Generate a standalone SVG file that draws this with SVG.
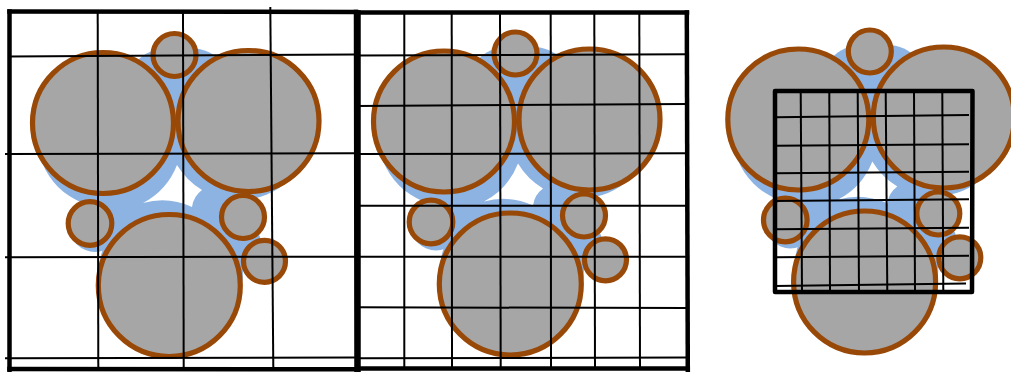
<svg xmlns="http://www.w3.org/2000/svg" xmlns:xlink="http://www.w3.org/1999/xlink" width="1011" height="372" viewBox="0 0 1011 372">
<style>
.blue{fill:#8db3e2;stroke:none}
.hole{fill:#ffffff;stroke:none}
.ball{fill:#a6a6a6;stroke:#984807;stroke-width:5.2}
.thin{fill:none;stroke:#000;stroke-width:2;stroke-linecap:butt}
.thick{fill:none;stroke:#000;stroke-width:4.5;stroke-linecap:square;stroke-linejoin:round}
</style>
<defs>
<g id="cluster">
<g class="shadow">
<polygon class="blue" points="109,136 176,90 239,127 217,210 243,243 171,272 96,228"/>
<circle class="blue" cx="109" cy="136" r="72"/>
<circle class="blue" cx="239" cy="127" r="73"/>
<circle class="blue" cx="171" cy="272" r="72"/>
<circle class="blue" cx="95" cy="227" r="25"/>
<circle class="blue" cx="217" cy="210" r="25"/>
<circle class="blue" cx="243" cy="243" r="18"/>
<path class="blue" d="M134,66 C140,55 150,50 165,48 L190,48 C205,49 214,53 222,62 L176,118 Z"/>
<path class="hole" d="M177,165 A73,73 0 0 0 202,190 A25,25 0 0 0 192,207 A72,72 0 0 0 143,203 A73,73 0 0 0 177,165 Z"/>
</g>
<circle class="ball" cx="103" cy="123" r="70.5"/>
<circle class="ball" cx="248.5" cy="121" r="70.5"/>
<circle class="ball" cx="169.3" cy="285.5" r="71"/>
<circle class="ball" cx="174.5" cy="55" r="21.5"/>
<circle class="ball" cx="90" cy="223.5" r="21.8"/>
<circle class="ball" cx="243" cy="217" r="21.5"/>
<circle class="ball" cx="264.5" cy="261.3" r="21"/>
</g>
</defs>

<g id="panel1">
<use xlink:href="#cluster" href="#cluster"/>
<g id="grid1">
<line class="thin" x1="97.7" y1="12" x2="98.3" y2="370"/>
<line class="thin" x1="183" y1="12" x2="183.7" y2="370"/>
<line class="thin" x1="270.3" y1="7" x2="273.3" y2="367"/>
<line class="thin" x1="9" y1="56.5" x2="355" y2="54.5"/>
<line class="thin" x1="5" y1="154" x2="355" y2="153.3"/>
<line class="thin" x1="5" y1="257.3" x2="355" y2="256.7"/>
<line class="thin" x1="5" y1="358.3" x2="355" y2="357.5"/>
<line class="thick" x1="9.5" y1="11.5" x2="356" y2="12"/>
<line class="thick" x1="9.5" y1="11.5" x2="9.5" y2="372"/>
<line class="thick" x1="9.5" y1="369" x2="356" y2="369.3"/>
<line class="thick" x1="356" y1="12" x2="356.5" y2="372"/>
</g>
</g>

<g id="panel2">
<use xlink:href="#cluster" href="#cluster" transform="translate(341,-1.5)"/>
<g id="grid2">
<line class="thin" x1="404.3" y1="12" x2="404.3" y2="370"/>
<line class="thin" x1="451.7" y1="12" x2="452" y2="370"/>
<line class="thin" x1="500" y1="12" x2="500.7" y2="370"/>
<line class="thin" x1="550.7" y1="12" x2="551" y2="370"/>
<line class="thin" x1="594.3" y1="12" x2="595" y2="370"/>
<line class="thin" x1="639.3" y1="12" x2="640" y2="370"/>
<line class="thin" x1="356" y1="55.5" x2="687" y2="54.3"/>
<line class="thin" x1="356" y1="106" x2="687" y2="104"/>
<line class="thin" x1="356" y1="154" x2="687" y2="153.3"/>
<line class="thin" x1="356" y1="205.7" x2="687" y2="205.7"/>
<line class="thin" x1="356" y1="256.7" x2="687" y2="256.7"/>
<line class="thin" x1="356" y1="307.3" x2="687" y2="308"/>
<line class="thin" x1="356" y1="358.3" x2="687" y2="357.5"/>
<line class="thick" x1="358.5" y1="12.5" x2="687" y2="12.5"/>
<line class="thick" x1="358.5" y1="12.5" x2="358.5" y2="372"/>
<line class="thick" x1="358.5" y1="368.5" x2="687.5" y2="368.5"/>
<line class="thick" x1="686.8" y1="12.5" x2="687.8" y2="372"/>
</g>
</g>

<g id="panel3">
<use xlink:href="#cluster" href="#cluster" transform="translate(695.3,-3.5)"/>
<g id="grid3">
<line class="thin" x1="800.7" y1="91" x2="802" y2="292"/>
<line class="thin" x1="829.3" y1="91" x2="830" y2="292"/>
<line class="thin" x1="857.7" y1="91" x2="859" y2="292"/>
<line class="thin" x1="885.7" y1="91" x2="887.3" y2="292"/>
<line class="thin" x1="914" y1="91" x2="915" y2="292"/>
<line class="thin" x1="942.3" y1="91" x2="943.3" y2="292"/>
<line class="thin" x1="775" y1="117.3" x2="969" y2="115"/>
<line class="thin" x1="775" y1="145.7" x2="969" y2="144.3"/>
<line class="thin" x1="775" y1="173.3" x2="969" y2="171.7"/>
<line class="thin" x1="775" y1="201" x2="969" y2="199.3"/>
<line class="thin" x1="775" y1="229.3" x2="969" y2="227.7"/>
<line class="thin" x1="775" y1="257.3" x2="969" y2="255.7"/>
<line class="thin" x1="775" y1="286" x2="966" y2="283.5"/>
<path class="thick" d="M775,91 L972.5,91 L972,292 L775,292 Z"/>
</g>
</g>
</svg>
